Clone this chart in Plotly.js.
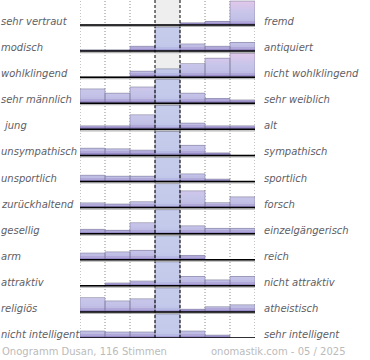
<!DOCTYPE html>
<html>
<head>
<meta charset="utf-8">
<script src="https://cdn.plot.ly/plotly-3.0.1.min.js"></script>
<style>html,body{margin:0;padding:0;background:#fff;}#chart{width:370px;height:360px;}</style>
</head>
<body>
<div id="chart"></div>
<script>
// ---- data (relative bar heights per row, 100 = tallest bar of the row) ----
const leftLabels = ["sehr vertraut","modisch","wohlklingend","sehr männlich","jung","unsympathisch","unsportlich","zurückhaltend","gesellig","arm","attraktiv","religiös","nicht intelligent"];
const rightLabels = ["fremd","antiquiert","nicht wohlklingend","sehr weiblich","alt","sympathisch","sportlich","forsch","einzelgängerisch","reich","nicht attraktiv","atheistisch","sehr intelligent"];
const scaleSteps = [1,2,3,4,5,6,7];
const values = [
  [0,0,0,0,10,15,100],
  [6,6,20,100,30,20,36],
  [0,0,25,35,57,79,100],
  [60,42,68,100,42,20,14],
  [15,15,61,100,26,15,15],
  [30,28,22,100,42,11,0],
  [26,22,22,100,32,10,0],
  [20,15,25,100,70,21,45],
  [18,14,46,100,33,22,22],
  [28,33,39,100,18,0,0],
  [0,12,20,100,39,25,39],
  [60,46,55,100,11,22,30],
  [29,25,25,100,29,12,0]
];
const titleLeft = "Onogramm Dusan, 116 Stimmen";
const titleRight = "onomastik.com - 05 / 2025";

// ---- drawing ----
const nRows = leftLabels.length;
const nCols = scaleSteps.length;
const MAXH = 0.92;            // tallest bar, in row units
const YTOP = nRows - 1 + 0.96;
const mid = Math.floor(nCols / 2);

function lerpStops(stops, p) {
  if (p <= stops[0][0]) return stops[0][1];
  for (let i = 1; i < stops.length; i++) {
    if (p <= stops[i][0]) {
      const a = stops[i-1], b = stops[i];
      const t = (p - a[0]) / (b[0] - a[0]);
      return a[1].map((v, j) => Math.round(v + (b[1][j] - v) * t));
    }
  }
  return stops[stops.length-1][1];
}
const outerStops = [[0,[138,122,190]],[0.10,[172,162,214]],[0.22,[194,192,231]],[0.55,[201,198,234]],[1,[226,200,234]]];
const midStops   = [[0,[150,140,200]],[0.10,[180,182,226]],[0.22,[194,201,234]],[1,[197,204,235]]];
function colorAt(col, frac) {
  const c = lerpStops(col === mid ? midStops : outerStops, frac);
  return `rgb(${c[0]},${c[1]},${c[2]})`;
}

const xs = [], bases = [], hs = [], cols = [];
for (let r = 0; r < nRows; r++) {
  for (let c = 0; c < nCols; c++) {
    xs.push(c + 0.5);
    bases.push(nRows - 1 - r);
    hs.push(values[r][c] / 100 * MAXH);
    cols.push(c);
  }
}

const traces = [];
const NB = 12;
const d = MAXH / NB;
for (let k = NB - 1; k >= 0; k--) {
  traces.push({
    type: 'bar', x: xs, base: bases,
    y: hs.map(h => h > k * d ? Math.min(h, (k + 1) * d) : 0),
    width: 1,
    marker: { color: cols.map(c => colorAt(c, (k + 0.5) / NB)), line: { width: 0 } },
    hoverinfo: 'skip'
  });
}
traces.push({
  type: 'bar', x: xs, base: bases, y: hs, width: 1,
  marker: { color: 'rgba(0,0,0,0)', line: { color: 'rgba(120,120,150,0.55)', width: 1 } },
  hoverinfo: 'skip'
});

const shapes = [];
shapes.push({ type: 'rect', xref: 'x', yref: 'y', x0: mid, x1: mid + 1, y0: 0, y1: YTOP,
  fillcolor: '#eeeeee', line: { width: 0 }, layer: 'below' });
for (let c = 0; c <= nCols; c++) {
  const isMid = (c === mid || c === mid + 1);
  shapes.push({ type: 'line', xref: 'x', yref: 'y', x0: c, x1: c, y0: 0, y1: YTOP,
    line: { color: isMid ? '#000' : '#8a8a8a', width: 1, dash: isMid ? '3px,2px' : '1px,2px' },
    layer: isMid ? 'above' : 'below' });
}
for (let r = 0; r < nRows; r++) {
  const yb = nRows - 1 - r;
  shapes.push({ type: 'line', xref: 'x', yref: 'y', x0: 0, x1: nCols, y0: yb - 0.055, y1: yb - 0.055,
    line: { color: 'rgba(150,150,150,0.7)', width: 1.2 }, layer: 'above' });
  shapes.push({ type: 'line', xref: 'x', yref: 'y', x0: 0, x1: nCols, y0: yb, y1: yb,
    line: { color: '#000', width: 1.5 }, layer: 'above' });
}

const annotations = [];
const labelFont = { family: 'DejaVu Sans, sans-serif', size: 10, color: '#606066', style: 'italic' };
for (let r = 0; r < nRows; r++) {
  const yb = nRows - 1 - r;
  annotations.push({ xref: 'paper', yref: 'y', x: -80 / 175, y: yb, xanchor: 'left', yanchor: 'bottom',
    yshift: -3, xshift: leftLabels[r] === 'jung' ? 2 : 0,
    text: leftLabels[r], showarrow: false, font: labelFont, borderpad: 0 });
  annotations.push({ xref: 'paper', yref: 'y', x: 183 / 175, y: yb, xanchor: 'left', yanchor: 'bottom',
    yshift: -3, text: rightLabels[r], showarrow: false, font: labelFont, borderpad: 0 });
}
const footFont = { family: 'DejaVu Sans, sans-serif', size: 10, color: '#bbbbbb' };
annotations.push({ xref: 'paper', yref: 'paper', x: -79 / 175, y: -13 / 338, xanchor: 'left', yanchor: 'middle',
  text: titleLeft, showarrow: false, font: footFont, borderpad: 0 });
annotations.push({ xref: 'paper', yref: 'paper', x: 267 / 175, y: -13 / 338, xanchor: 'right', yanchor: 'middle',
  text: titleRight, showarrow: false, font: footFont, borderpad: 0 });

const layout = {
  width: 370, height: 360,
  margin: { l: 80, r: 115, t: 0, b: 22, pad: 0 },
  paper_bgcolor: '#ffffff', plot_bgcolor: '#ffffff',
  barmode: 'overlay', bargap: 0, showlegend: false, hovermode: false,
  xaxis: { range: [0, nCols], showgrid: false, zeroline: false, showticklabels: false, ticks: '', showline: false, fixedrange: true },
  yaxis: { range: [0, YTOP], showgrid: false, zeroline: false, showticklabels: false, ticks: '', showline: false, fixedrange: true },
  shapes: shapes, annotations: annotations
};
Plotly.newPlot('chart', traces, layout, { displayModeBar: false, staticPlot: true });
</script>
</body>
</html>
